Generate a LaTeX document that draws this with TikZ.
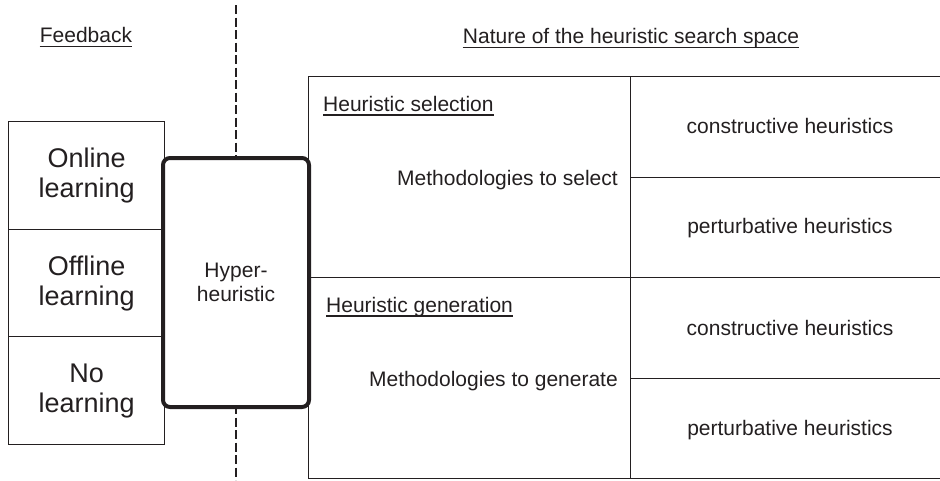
\documentclass[tikz,border=0pt]{standalone}
\usepackage{fontspec}
\setmainfont{Liberation Sans}
\definecolor{ink}{RGB}{35,31,32}
\tikzset{
  thin line/.style={draw=ink, line width=1.3pt},
  txt/.style={inner sep=0pt, text=ink, font=\fontsize{21}{24}\selectfont},
  bigtxt/.style={inner sep=0pt, text=ink, align=center, font=\fontsize{27}{30}\selectfont},
  learnbox/.style={thin line, minimum width=156pt, anchor=north west, bigtxt},
  cellbox/.style={thin line, anchor=north west, inner sep=0pt},
  hyperbox/.style={draw=ink, line width=4pt, rounded corners=7pt, fill=white, minimum width=146pt, minimum height=249pt, txt, align=center},
  uline/.style={draw=ink, line width=1.3pt},
  divider/.style={draw=ink, line width=1.3pt, dash pattern=on 9pt off 3.5pt}
}
\begin{document}
\begin{tikzpicture}[x=1pt,y=-1pt]
\useasboundingbox (0,0) rectangle (940,480);
% headings
\node[txt, anchor=base] (fb) at (86,42) {Feedback};
\draw[uline] ([yshift=-4.5pt]fb.base west) -- ([yshift=-4.5pt]fb.base east);
\node[txt, anchor=base] (nat) at (631,43) {Nature of the heuristic search space};
\draw[uline] ([yshift=-4.5pt]nat.base west) -- ([yshift=-4.5pt]nat.base east);
% left learning boxes
\node[learnbox, minimum height=108pt] (online) at (8,121) {Online\\learning};
\node[learnbox, minimum height=107pt] (offline) at (8,229) {Offline\\learning};
\node[learnbox, minimum height=108pt] (nolearn) at (8,336) {No\\learning};
% right region
\node[cellbox, minimum width=322pt, minimum height=201pt] (sel) at (308,76) {};
\node[cellbox, minimum width=322pt, minimum height=201pt] (gen) at (308,277) {};
\node[cellbox, minimum width=330pt, minimum height=101pt] (c1) at (630,76) {};
\node[cellbox, minimum width=330pt, minimum height=100pt] (p1) at (630,177) {};
\node[cellbox, minimum width=330pt, minimum height=101pt] (c2) at (630,277) {};
\node[cellbox, minimum width=330pt, minimum height=100pt] (p2) at (630,378) {};
\node[txt, anchor=base] (c1t) at (790,133) {constructive heuristics};
\node[txt, anchor=base] (p1t) at (790,233) {perturbative heuristics};
\node[txt, anchor=base] (c2t) at (790,335) {constructive heuristics};
\node[txt, anchor=base] (p2t) at (790,435) {perturbative heuristics};
\node[txt, anchor=base west] (hs) at (323,111) {Heuristic selection};
\draw[uline] ([yshift=-4pt]hs.base west) -- ([yshift=-4pt]hs.base east);
\node[txt, anchor=base west] (hg) at (326,312) {Heuristic generation};
\draw[uline] ([yshift=-4pt]hg.base west) -- ([yshift=-4pt]hg.base east);
\node[txt, anchor=base east] (ms) at (618,185) {Methodologies to select};
\node[txt, anchor=base east] (mg) at (618,386) {Methodologies to generate};
% dashed divider
\coordinate (dtop) at (236,5);
\coordinate (dbot) at (236,480);
\draw[divider] (dtop) -- (dbot);
% hyper-heuristic box
\node[hyperbox] (hyper) at (236,282.5) {Hyper-\\heuristic};
\end{tikzpicture}
\end{document}
